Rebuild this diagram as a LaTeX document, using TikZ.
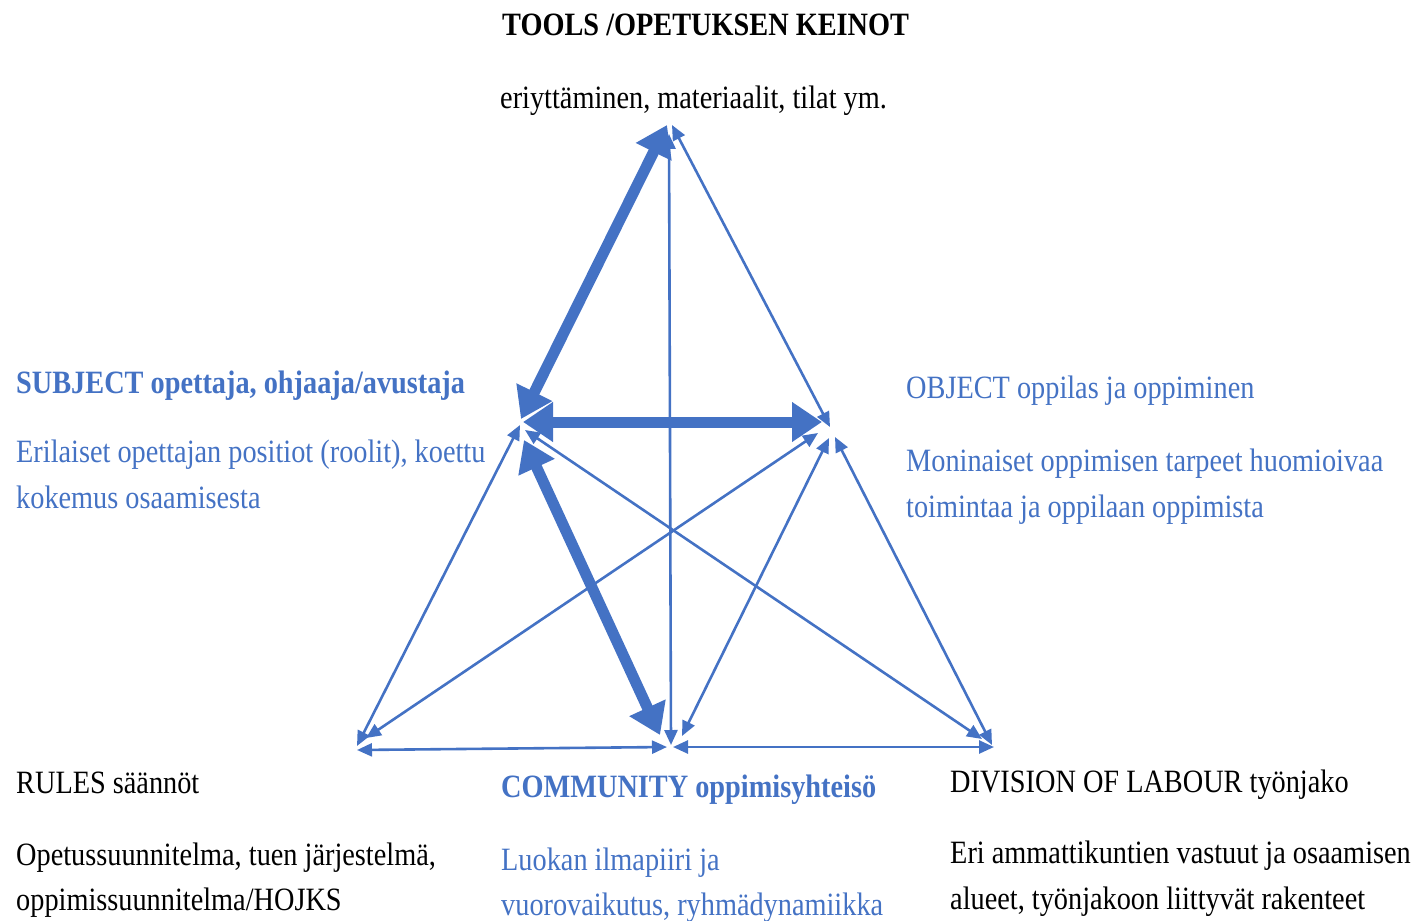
\documentclass[tikz,border=0pt]{standalone}
\usepackage{fontspec}
\usepackage{graphicx}
\setmainfont{Liberation Serif}
\usetikzlibrary{arrows.meta}
\definecolor{obl}{RGB}{68,114,196}
\newcommand{\vstr}[1]{\scalebox{1}[1.15]{#1}}
\tikzset{
  thin/.style={draw=obl, line width=2.6pt, {Triangle[length=15pt,width=13pt]}-{Triangle[length=15pt,width=13pt]}},
  thick/.style={draw=obl, line width=11pt, {Triangle[length=30pt,width=38pt]}-{Triangle[length=30pt,width=38pt]}},
  txt/.style={anchor=base west, inner sep=0pt, font=\fontsize{28.3pt}{34pt}\selectfont},
  btxt/.style={txt, font=\fontsize{28.3pt}{34pt}\selectfont\bfseries},
}
\begin{document}
\begin{tikzpicture}[x=1pt,y=-1pt]
\useasboundingbox (0,0) rectangle (1414,921);
\clip (0,0) rectangle (1414,921);
% end points
\coordinate (tS) at (667,125);   \coordinate (sT) at (521,419);
\coordinate (sO) at (523,422);   \coordinate (oS) at (822,422);
\coordinate (sC) at (524,440);   \coordinate (cS) at (660,735);
\coordinate (tC) at (669,134);   \coordinate (cT) at (671,745);
\coordinate (tO) at (672,125);   \coordinate (oT) at (830,427);
\coordinate (sR) at (520,425);   \coordinate (rS) at (357,746);
\coordinate (sD) at (525,430);   \coordinate (dS) at (982,739);
\coordinate (oR) at (818,433);   \coordinate (rO) at (366,738);
\coordinate (oC) at (829,438);   \coordinate (cO) at (682,736);
\coordinate (oD) at (835,437);   \coordinate (dO) at (992,745);
\coordinate (rC) at (357,750);   \coordinate (cR) at (667,747);
\coordinate (cD) at (673,747);   \coordinate (dC) at (994,747);
% thin connectors
\draw[thin] (tC) -- (cT);
\draw[thin] (tO) -- (oT);
\draw[thin] (sR) -- (rS);
\draw[thin] (sD) -- (dS);
\draw[thin] (oR) -- (rO);
\draw[thin] (oC) -- (cO);
\draw[thin] (oD) -- (dO);
\draw[thin] (rC) -- (cR);
\draw[thin] (cD) -- (dC);
% thick connectors
\draw[thick] (sT) -- (tS);
\draw[thick] (sO) -- (oS);
\draw[thick] (sC) -- (cS);
% texts
\node[btxt] (tools) at (502,35) {\vstr{TOOLS /OPETUKSEN KEINOT}};
\node[txt] (tools2) at (500,108) {\vstr{eriyttäminen, materiaalit, tilat ym.}};
\node[btxt, text=obl] (subj) at (16,393) {\vstr{SUBJECT opettaja, ohjaaja/avustaja}};
\node[txt, text=obl] (subj2) at (16,462) {\vstr{Erilaiset opettajan positiot (roolit), koettu}};
\node[txt, text=obl] (subj3) at (16,508) {\vstr{kokemus osaamisesta}};
\node[txt, text=obl] (obj) at (906,398) {\vstr{OBJECT oppilas ja oppiminen}};
\node[txt, text=obl] (obj2) at (906,471) {\vstr{Moninaiset oppimisen tarpeet huomioivaa}};
\node[txt, text=obl] (obj3) at (906,517) {\vstr{toimintaa ja oppilaan oppimista}};
\node[txt] (rules) at (16,793) {\vstr{RULES säännöt}};
\node[txt] (rules2) at (16,865) {\vstr{Opetussuunnitelma, tuen järjestelmä,}};
\node[txt] (rules3) at (16,910) {\vstr{oppimissuunnitelma/HOJKS}};
\node[btxt, text=obl] (comm) at (501,797) {\vstr{COMMUNITY oppimisyhteisö}};
\node[txt, text=obl] (comm2) at (501,870) {\vstr{Luokan ilmapiiri ja}};
\node[txt, text=obl] (comm3) at (501,915) {\vstr{vuorovaikutus, ryhmädynamiikka}};
\node[txt] (div) at (950,792) {\vstr{DIVISION OF LABOUR työnjako}};
\node[txt] (div2) at (950,863) {\vstr{Eri ammattikuntien vastuut ja osaamisen}};
\node[txt] (div3) at (950,909) {\vstr{alueet, työnjakoon liittyvät rakenteet}};
\end{tikzpicture}
\end{document}
